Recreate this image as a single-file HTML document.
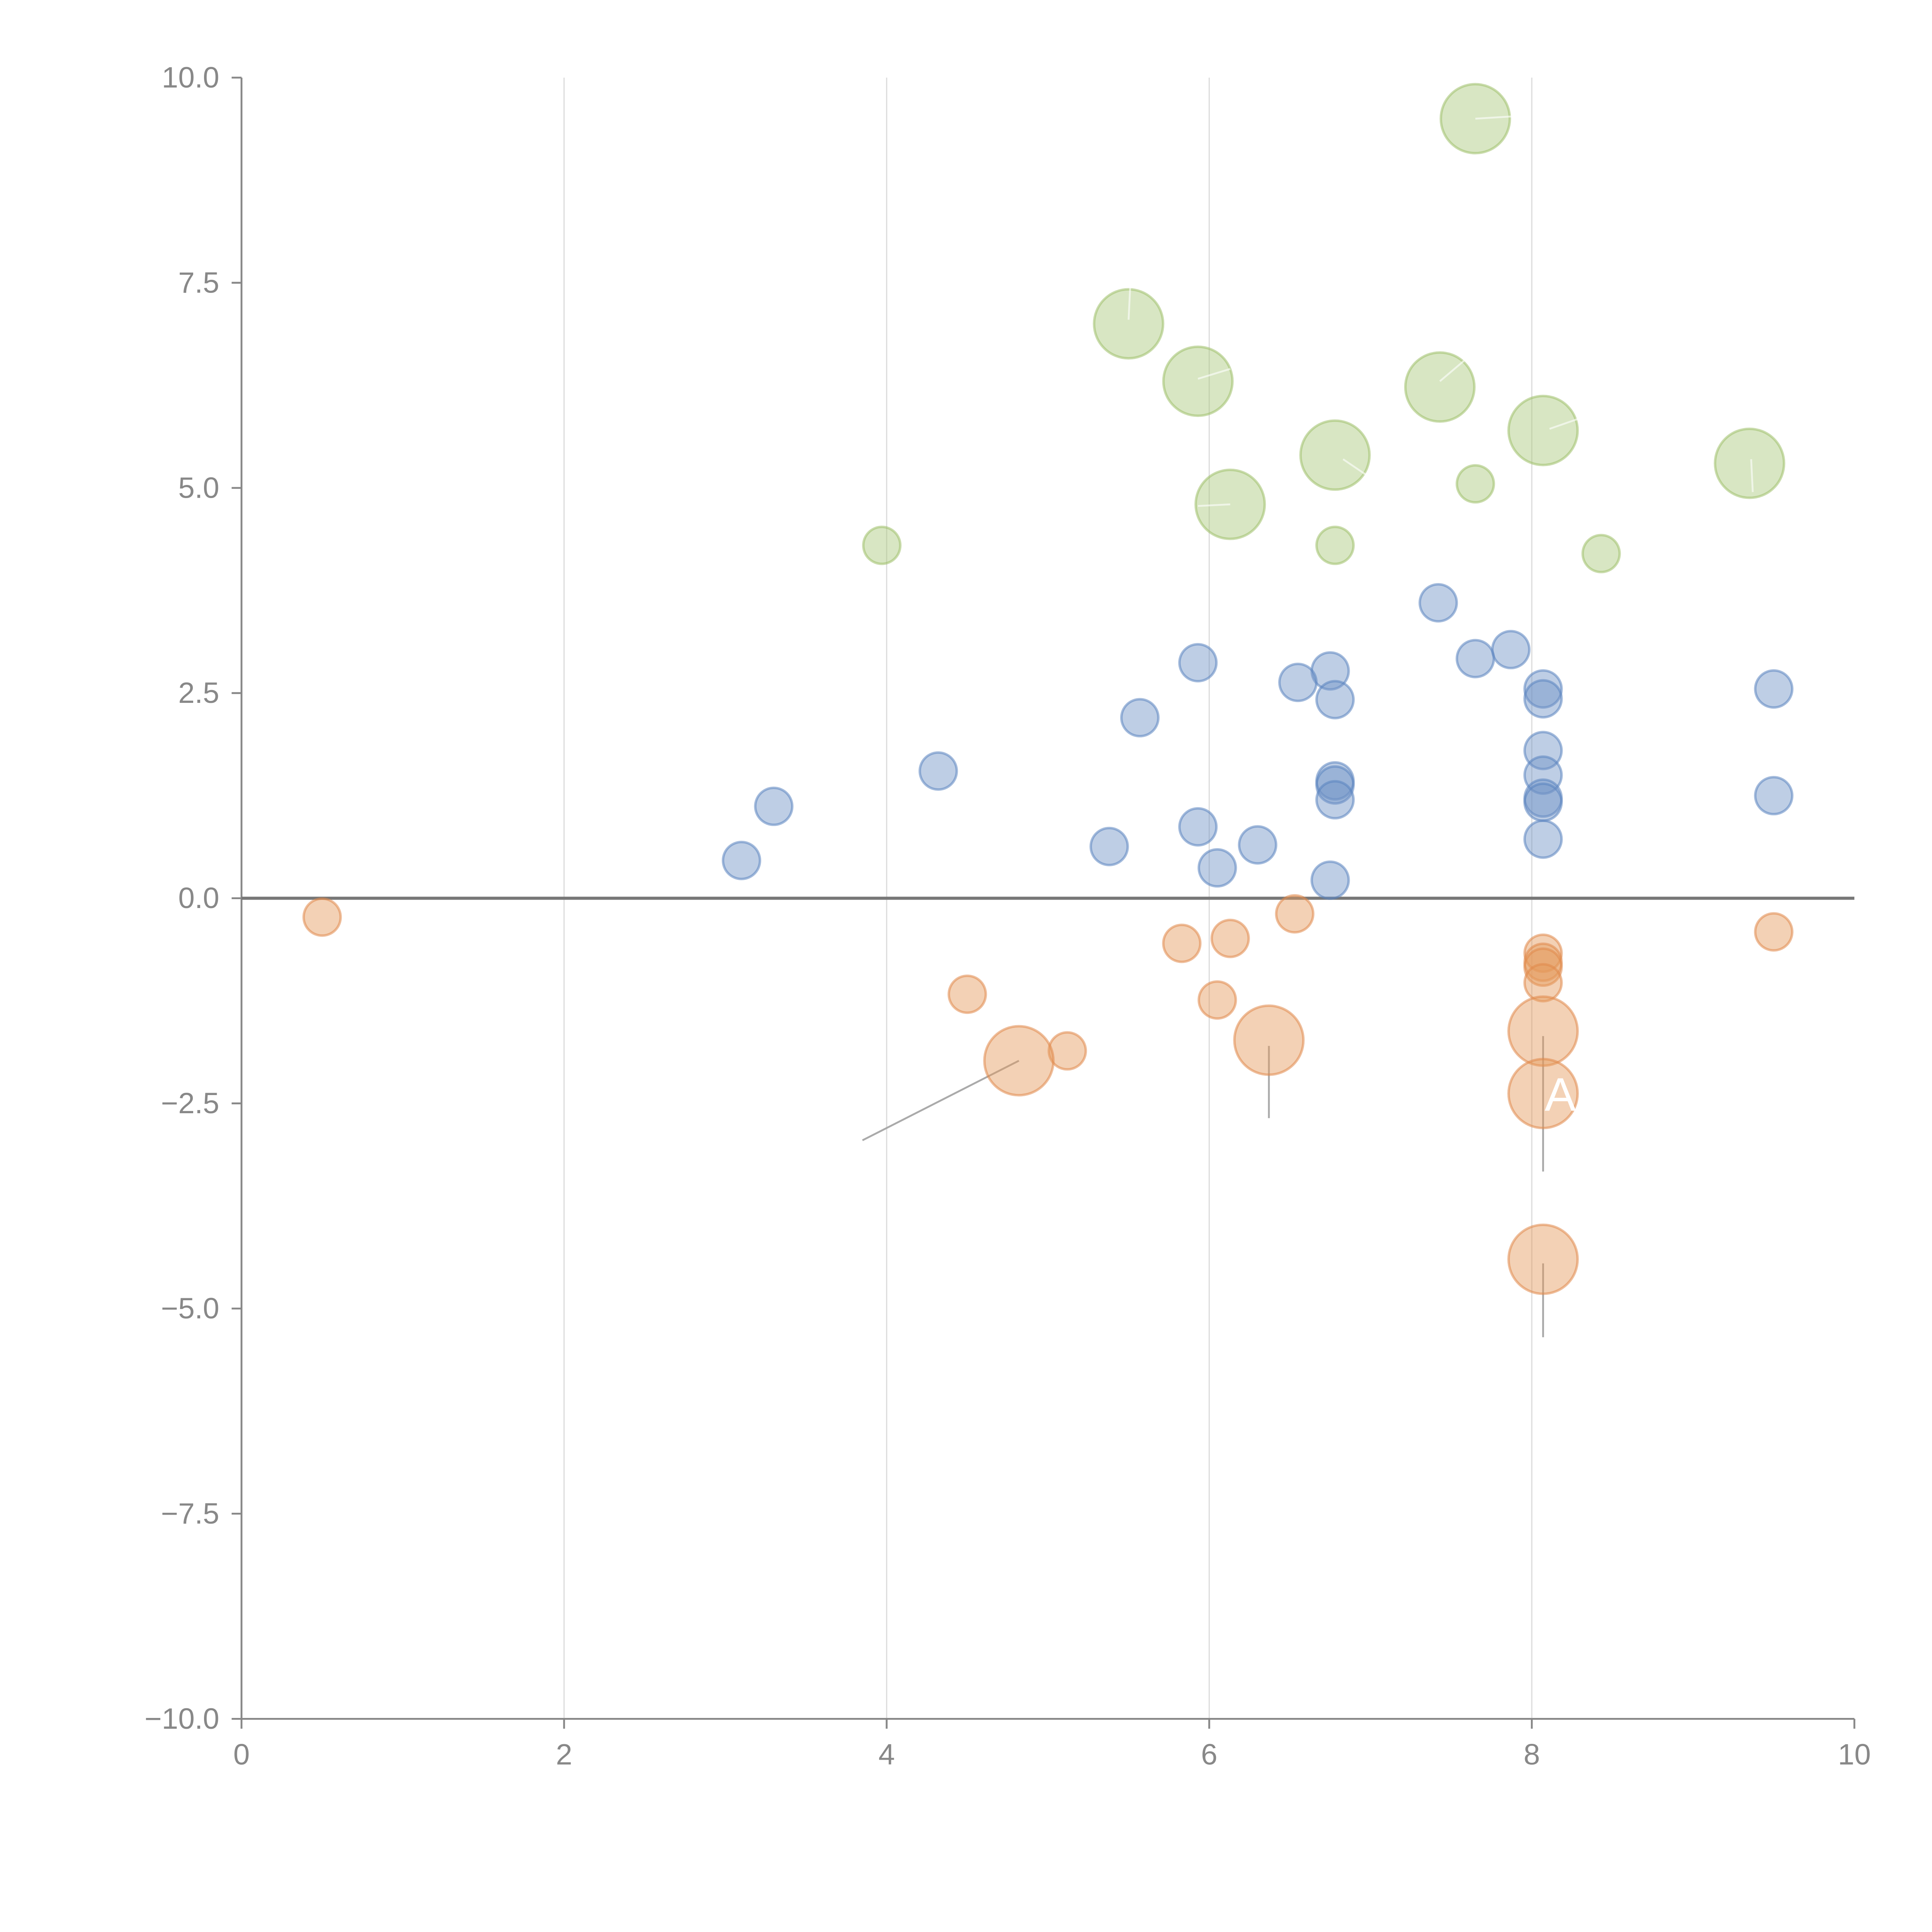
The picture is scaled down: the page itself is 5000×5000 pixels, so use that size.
<!DOCTYPE html>
<html><head><meta charset="utf-8"><style>html,body{margin:0;padding:0;background:#fff}svg{display:block}</style></head>
<body>
<svg id="chart" width="5000" height="5000" viewBox="0 0 1568 1568" xmlns="http://www.w3.org/2000/svg" font-family="Liberation Sans, sans-serif">
<g id="grid"></g>
<g id="axes"></g>
<g id="leaders"></g>
<g id="marks"></g>
<g id="labels"></g>
</svg>
<script>
const xTicks=[0,2,4,6,8,10];
const yTicks=[-10,-7.5,-5,-2.5,0,2.5,5,7.5,10];
const greenX=[7.65,5.5,5.93,7.43,8.07,6.78,9.35,6.13,7.65,3.97,6.78,8.43];
const greenY=[9.5,7.0,6.3,6.23,5.7,5.4,5.3,4.8,5.05,4.3,4.3,4.2];
const greenBig=[1,1,1,1,1,1,1,1,0,0,0,0];
const blueX=[7.42,7.87,5.93,7.65,6.75,6.55,8.07,8.07,6.78,9.5,5.57,4.32,3.3,6.78,6.78,6.78,8.07,8.07,8.07,8.07,9.5,5.93,5.38,6.3,6.05,8.07,3.1,6.75];
const blueY=[3.6,3.03,2.87,2.92,2.77,2.63,2.55,2.43,2.42,2.55,2.2,1.55,1.12,1.43,1.38,1.2,1.8,1.5,1.22,1.17,1.25,0.87,0.63,0.65,0.37,0.72,0.46,0.22];
const orangeX=[0.5,6.53,5.83,6.13,4.5,6.05,8.07,8.07,8.07,8.07,9.5,5.12,4.82,6.37,8.07,8.07,8.07];
const orangeY=[-0.23,-0.19,-0.55,-0.49,-1.17,-1.24,-0.67,-0.78,-0.84,-1.03,-0.41,-1.86,-1.98,-1.73,-1.62,-2.38,-4.4];
const orangeBig=[0,0,0,0,0,0,0,0,0,0,0,0,1,1,1,1,1];
const X0=196,X1=1505,Y0=1395,Y1=63;
const sx=v=>X0+(v-0)/(10-0)*(X1-X0);
const sy=v=>Y0-(v+10)/20*(Y0-Y1);
const NS="http://www.w3.org/2000/svg";
function mk(tag,attrs,parent){const e=document.createElementNS(NS,tag);for(const k in attrs)e.setAttribute(k,attrs[k]);parent.appendChild(e);return e;}
const grid=document.getElementById('grid'),axes=document.getElementById('axes'),marks=document.getElementById('marks'),leaders=document.getElementById('leaders'),labels=document.getElementById('labels');
xTicks.forEach(t=>{
 if(t>0&&t<10){const l=mk('line',{x1:sx(t),x2:sx(t),y1:Y1,y2:Y0,stroke:'#dddddd','stroke-width':1},grid);
 
 }
 const tk=mk('line',{x1:sx(t),x2:sx(t),y1:Y0,y2:Y0+8,stroke:'#888','stroke-width':1.5},axes);
 
 
 const tx=mk('text',{x:sx(t),y:Y0+37,'text-anchor':'middle','font-size':24,fill:'#888'},axes);tx.textContent=t;
 
 
});
yTicks.forEach(t=>{
 const tk=mk('line',{x1:X0-8,x2:X0,y1:sy(t),y2:sy(t),stroke:'#888','stroke-width':1.5},axes);
 
 
 const tx=mk('text',{x:X0-18,y:sy(t)+8,'text-anchor':'end','font-size':24,fill:'#888'},axes);tx.textContent=t.toFixed(1).replace('-','\u2212');
 
 
});
let a=mk('line',{x1:X0,x2:X0,y1:Y1,y2:Y0,stroke:'#888','stroke-width':1.5},axes);


a=mk('line',{x1:X0,x2:X1,y1:Y0,y2:Y0,stroke:'#888','stroke-width':1.5},axes);


a=mk('line',{x1:X0,x2:X1,y1:sy(0),y2:sy(0),stroke:'#777','stroke-width':2.5},axes);


// leader lines
[[4.82,-1.98,3.85,-2.95],[6.37,-1.8,6.37,-2.68],[8.07,-1.68,8.07,-3.33],[8.07,-4.45,8.07,-5.35]].forEach(d=>{
 const l=mk('line',{x1:sx(d[0]),y1:sy(d[1]),x2:sx(d[2]),y2:sy(d[3]),stroke:'#aaa','stroke-width':1.5},leaders);
 
 
});
function series(xs,ys,big,fill,stroke,name){
 xs.forEach((x,i)=>{
  const r=big&&big[i]?28:15;
  const c=mk('circle',{cx:sx(x),cy:sy(ys[i]),r:r,fill:fill,'fill-opacity':0.45,stroke:stroke,'stroke-opacity':0.55,'stroke-width':2},marks);
  
  
 });
}
series(greenX,greenY,greenBig,'#a9c77a','#9fc06a','bubble-green');
series(blueX,blueY,null,'#6f93c6','#5a84c0','bubble-blue');
series(orangeX,orangeY,orangeBig,'#e49a5a','#e0894a','bubble-orange');
// white strokes inside green bubbles
[[7.65,9.5,7.9,9.53],[5.5,7.05,5.51,7.45],[5.93,6.33,6.13,6.45],[7.43,6.3,7.58,6.55],[8.11,5.72,8.3,5.85],[6.83,5.35,6.98,5.15],[9.36,5.35,9.37,4.95],[5.93,4.78,6.13,4.8]].forEach(d=>{
 const l=mk('line',{x1:sx(d[0]),y1:sy(d[1]),x2:sx(d[2]),y2:sy(d[3]),stroke:'#fff','stroke-opacity':0.6,'stroke-width':1.5},leaders.parentNode);
 
 
});
const t1=mk('text',{x:sx(8.08),y:sy(-2.38)+14,'font-size':38,fill:'#fff'},labels);t1.textContent='A';


</script>
</body></html>
